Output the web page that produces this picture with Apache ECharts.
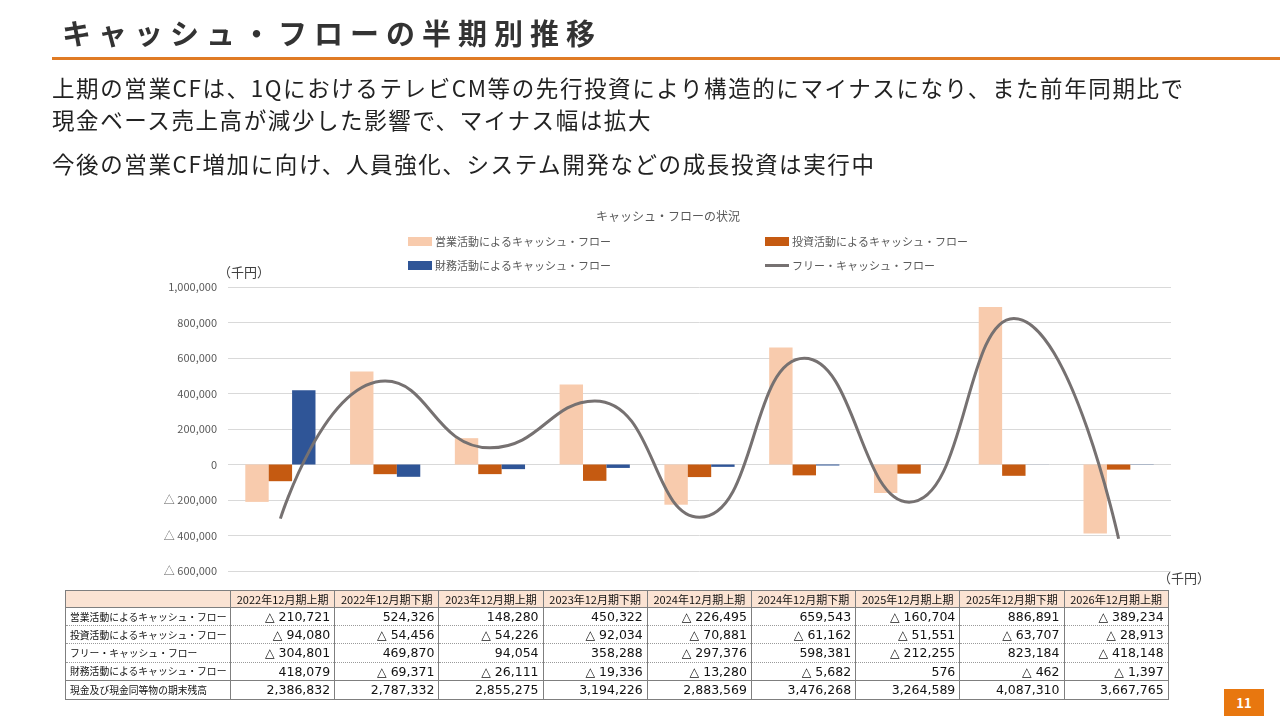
<!DOCTYPE html>
<html>
<head>
<meta charset="utf-8">
<script src="https://cdn.jsdelivr.net/npm/echarts@6/dist/echarts.min.js"></script>
<style>
  html, body { margin:0; padding:0; background:#fff; }
  body { width:1280px; height:720px; position:relative; overflow:hidden; font-family:"Noto Sans CJK JP","Noto Sans",sans-serif; }
  #chart { position:absolute; left:0; top:0; width:1280px; height:720px; }
  .abs { position:absolute; white-space:nowrap; }
  #title { left:62px; top:12px; font-size:29px; font-weight:bold; color:#333; letter-spacing:7px; line-height:40px; }
  #rule { left:52px; top:57px; width:1228px; height:3px; background:#E07B24; }
  .body { left:52px; font-size:22.5px; color:#222; line-height:32px; letter-spacing:1.6px; }
  .unit { font-size:13px; color:#404040; }
  #tbl { position:absolute; left:65px; top:590px; border-collapse:collapse; table-layout:fixed; width:1103px; font-family:"DejaVu Sans","Noto Sans CJK JP",sans-serif; }
  #tbl td, #tbl th { padding:0 4px; box-sizing:border-box; overflow:hidden; white-space:nowrap; }
  #tbl th { background:#FBE3D3; font-weight:normal; font-size:11px; height:17px; color:#111; font-family:"Noto Sans CJK JP",sans-serif; border:1px solid #7f7f7f; }
  #tbl td { font-size:12.5px; height:18.2px; text-align:right; color:#111; border-left:1px solid #7f7f7f; border-right:1px solid #7f7f7f; border-top:1px dotted #9a9a9a; }
  #tbl td.lab { text-align:left; font-size:9.8px; font-family:"Noto Sans CJK JP",sans-serif; }
  #tbl tr.last td { border-top:1.5px solid #7f7f7f; border-bottom:1.5px solid #7f7f7f; height:19px; }
  #tbl { border:1.5px solid #7f7f7f; }
  #page { left:1224px; top:689px; width:40px; height:27px; background:#E8770F; color:#fff; font-weight:bold; font-size:13px; text-align:center; line-height:27px; }
</style>
</head>
<body>
<div id="chart"></div>
<div id="title" class="abs">キャッシュ・フローの半期別推移</div>
<div id="rule" class="abs"></div>
<div class="abs body" style="top:71px;">上期の営業CFは、1QにおけるテレビCM等の先行投資により構造的にマイナスになり、また前年同期比で</div>
<div class="abs body" style="top:103px;">現金ベース売上高が減少した影響で、マイナス幅は拡大</div>
<div class="abs body" style="top:147px;">今後の営業CF増加に向け、人員強化、システム開発などの成長投資は実行中</div>
<div class="abs unit" style="left:218px; top:262px;">（千円）</div>
<div class="abs unit" style="left:1158px; top:568px;">（千円）</div>
<table id="tbl"></table>
<div id="page" class="abs">11</div>
<script>
const categories = ['2022年12月期上期','2022年12月期下期','2023年12月期上期','2023年12月期下期','2024年12月期上期','2024年12月期下期','2025年12月期上期','2025年12月期下期','2026年12月期上期'];
const operatingCF = [-210721, 524326, 148280, 450322, -226495, 659543, -160704, 886891, -389234];
const investingCF = [-94080, -54456, -54226, -92034, -70881, -61162, -51551, -63707, -28913];
const freeCF = [-304801, 469870, 94054, 358288, -297376, 598381, -212255, 823184, -418148];
const financingCF = [418079, -69371, -26111, -19336, -13280, -5682, 576, -462, -1397];
const cashEnd = [2386832, 2787332, 2855275, 3194226, 2883569, 3476268, 3264589, 4087310, 3667765];
const yTicks = { min: -600000, max: 1000000, interval: 200000 };

const nameOp = '営業活動によるキャッシュ・フロー';
const nameInv = '投資活動によるキャッシュ・フロー';
const nameFin = '財務活動によるキャッシュ・フロー';
const nameFree = 'フリー・キャッシュ・フロー';

function fmt(v) {
  const s = Math.abs(v).toLocaleString('en-US');
  return v < 0 ? '△ ' + s : s;
}

// table
const rows = [
  [nameOp, operatingCF],
  [nameInv, investingCF],
  [nameFree, freeCF],
  [nameFin, financingCF],
  ['現金及び現金同等物の期末残高', cashEnd]
];
let html = '<colgroup><col style="width:165px">' + categories.map(() => '<col style="width:104.2px">').join('') + '</colgroup>';
html += '<tr><th></th>' + categories.map(c => '<th>' + c + '</th>').join('') + '</tr>';
rows.forEach((r, i) => {
  html += '<tr' + (i === rows.length - 1 ? ' class="last"' : '') + '><td class="lab">' + r[0] + '</td>' + r[1].map(v => '<td>' + fmt(v) + '</td>').join('') + '</tr>';
});
document.getElementById('tbl').innerHTML = html;

const chart = echarts.init(document.getElementById('chart'));
const ff = '"Noto Sans CJK JP", sans-serif';
const legText = { fontSize: 11, color: '#595959', fontFamily: ff, padding: [0, 0, 0, -2] };
chart.setOption({
  animation: false,
  textStyle: { fontFamily: ff },
  title: { text: 'キャッシュ・フローの状況', left: 591, top: 205, textStyle: { fontSize: 12, fontWeight: 'normal', color: '#595959', fontFamily: ff } },
  legend: [
    { data: [nameOp], left: 403, top: 231, itemWidth: 24, itemHeight: 9, icon: 'rect', textStyle: legText },
    { data: [nameInv], left: 760, top: 231, itemWidth: 24, itemHeight: 9, icon: 'rect', textStyle: legText },
    { data: [nameFin], left: 403, top: 255, itemWidth: 24, itemHeight: 9, icon: 'rect', textStyle: legText },
    { data: [nameFree], left: 760, top: 255, itemWidth: 24, itemHeight: 3, icon: 'rect', textStyle: legText }
  ],
  grid: { left: 228, right: 109, top: 287, bottom: 149, containLabel: false },
  xAxis: { type: 'category', data: categories, axisLine: { show: false }, axisTick: { show: false }, axisLabel: { show: false } },
  yAxis: {
    type: 'value', min: yTicks.min, max: yTicks.max, interval: yTicks.interval,
    axisLine: { show: false }, axisTick: { show: false },
    splitLine: { lineStyle: { color: '#D9D9D9', width: 1 } },
    axisLabel: { fontSize: 11, color: '#595959', margin: 11, formatter: v => fmt(v) }
  },
  series: [
    { name: nameOp, type: 'bar', data: operatingCF, itemStyle: { color: '#F8CBAD' }, barGap: '0%', barCategoryGap: '33%' },
    { name: nameInv, type: 'bar', data: investingCF, itemStyle: { color: '#C55A11' } },
    { name: nameFin, type: 'bar', data: financingCF, itemStyle: { color: '#2F5597' } },
    { name: nameFree, type: 'line', data: freeCF, smooth: 0.5, showSymbol: false, symbol: 'none', lineStyle: { color: '#767171', width: 3 }, itemStyle: { color: '#767171' }, z: 5 }
  ]
});
</script>
</body>
</html>
